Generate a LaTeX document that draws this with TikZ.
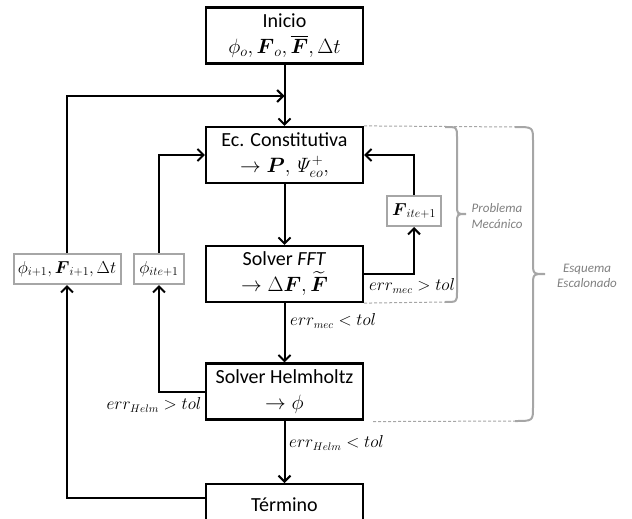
\documentclass[tikz,border=0pt]{standalone}
\usepackage{amsmath}
\usepackage[no-math]{fontspec}
\setmainfont{Carlito}
\usetikzlibrary{arrows.meta}
\definecolor{gbox}{HTML}{A6A6A6}
\definecolor{gtext}{HTML}{808080}
\begin{document}
\begin{tikzpicture}[x=1pt,y=-1pt,
 mainbox/.style={draw=black, line width=2.2pt, minimum width=157pt, minimum height=56pt, inner sep=0pt, align=center, font=\fontsize{20}{26}\selectfont},
 smallbox/.style={draw=gbox, line width=2pt, fill=white, minimum height=30pt, inner xsep=2pt, inner ysep=0pt, font=\fontsize{17}{19}\selectfont},
 flow/.style={line width=2pt, -{Straight Barb[length=6pt,width=12pt]}},
 lbl/.style={font=\fontsize{16}{18}\selectfont, inner sep=0pt},
 dashedline/.style={draw=gbox, line width=1pt, dash pattern=on 3pt off 2pt},
 bracepath/.style={draw=gbox, line width=2pt},
 side/.style={text=gtext, font=\fontsize{13}{15.5}\selectfont\itshape, align=center}
]
\useasboundingbox (0,0) rectangle (632,519);

% main boxes
\node[mainbox] (ini) at (284.5,35.5) {Inicio\\$\phi_o,\boldsymbol{F}_o,\overline{\boldsymbol{F}},\Delta t$};
\node[mainbox] (ec) at (284.5,155) {Ec. Constitutiva\\$\rightarrow \boldsymbol{P},\mathit{\Psi}^{+}_{eo},$};
\node[mainbox] (fft) at (284.5,274) {Solver \textit{FFT}\\$\rightarrow \Delta\boldsymbol{F},\widetilde{\boldsymbol{F}}$};
\node[mainbox] (helm) at (284.5,391.5) {Solver Helmholtz\\$\rightarrow \phi$};
\node[mainbox, anchor=north, minimum height=0pt, inner ysep=0pt, text height=27pt, text depth=30pt] (term) at (284.5,483) {Término};

% small boxes
\node[smallbox, minimum width=54pt] (fite) at (414,211) {$\boldsymbol{F}_{ite+1}$};
\node[smallbox, minimum width=50pt] (phiite) at (159,269) {$\phi_{ite+1}$};
\node[smallbox, minimum width=107pt] (phii) at (67,269) {$\phi_{i+1},\boldsymbol{F}_{i+1},\Delta t$};

% dashed region lines
\draw[dashedline] (ec.north east) -- (515,127);
\draw[dashedline] (fft.south east) -- (445,302);
\draw[dashedline] ([xshift=9pt,yshift=-1pt]helm.south east) -- (515,421);

% braces
\draw[bracepath] (445,127) .. controls (457,127) .. (457,137) -- (457,205) .. controls (457,214) .. (466,214) .. controls (457,214) .. (457,223) -- (457,292) .. controls (457,302) .. (445,302);
\draw[bracepath] (515,127) .. controls (533,127) .. (533,141) -- (533,262) .. controls (533,274) .. (545,274) .. controls (533,274) .. (533,286) -- (533,407) .. controls (533,421) .. (515,421);

\node[side] (pm) at (497,216) {Problema\\Mecánico};
\node[side] (ee) at (587,276) {Esquema\\Escalonado};

% connectors
\coordinate (join) at (284.5,96);
\draw[flow] (ini) -- (ec);
\draw[flow] (ec) -- (fft);
\draw[flow] (fft) -- (helm);
\draw[flow] (helm) -- (term);
\draw[flow] (fft.east) -| (fite.south);
\draw[flow] (fite.north) |- (ec.east);
\draw[flow] (helm.west) -| (phiite.south);
\draw[flow] (phiite.north) |- (ec.west);
\draw[flow] ([yshift=-15pt]term.north west) -| (phii.south);
\draw[flow] (phii.north) |- (join);

% labels
\node[lbl, anchor=west] (lmecl) at (290,321) {$err_{mec}<tol$};
\node[lbl, anchor=west] (lhelml) at (289,443) {$err_{Helm}<tol$};
\node[lbl] (lmecg) at (412,286) {$err_{mec}>tol$};
\node[lbl] (lhelmg) at (154,405) {$err_{Helm}>tol$};
\end{tikzpicture}
\end{document}
